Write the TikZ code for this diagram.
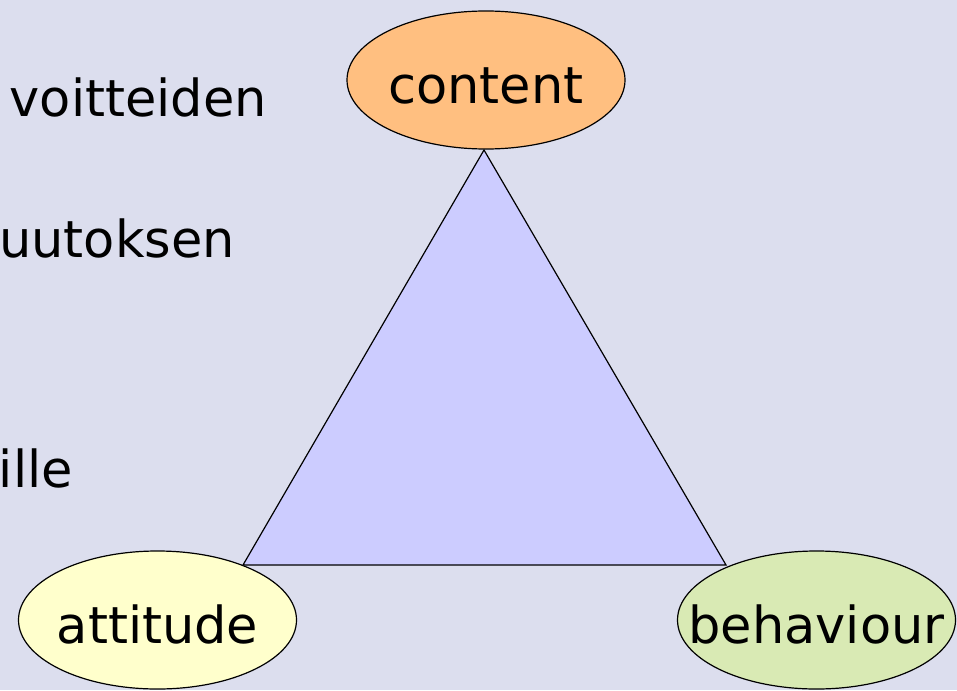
\documentclass[tikz,border=0pt]{standalone}
\usepackage{fontspec}
\setmainfont{DejaVu Sans}
\usetikzlibrary{shapes.geometric}
\definecolor{bgcol}{RGB}{220,222,238}
\definecolor{tricol}{RGB}{204,204,255}
\definecolor{contentcol}{RGB}{255,191,128}
\definecolor{attitudecol}{RGB}{255,255,204}
\definecolor{behaviourcol}{RGB}{217,234,180}
\tikzset{bigfont/.style={font=\fontsize{51}{60}\selectfont},
  corner/.style={draw, ellipse, line width=1.2pt, minimum width=278pt, minimum height=138pt, inner sep=0pt},
  cornertext/.style={bigfont, inner sep=0pt, text height=46pt, text depth=0pt},
  cuttext/.style={bigfont, anchor=base east, inner sep=0pt}}
\begin{document}
\begin{tikzpicture}[x=1pt, y=-1pt]
\useasboundingbox (0,0) rectangle (957,690);
\clip (0,0) rectangle (957,690);
\fill[bgcol] (0,0) rectangle (957,690);
% text cut off at the left edge
\node[cuttext](t1) at (267,117) {voitteiden};
\node[cuttext](t2) at (235,257) {uutoksen};
\node[cuttext](t3) at (73,487) {ille};
% triangle
\coordinate (top) at (484,150);
\coordinate (left) at (243,565);
\coordinate (right) at (726,565);
\filldraw[fill=tricol, draw=black, line width=1.2pt](top)--(left)--(right)--cycle;
% the three corners
\node[corner, fill=contentcol](content) at (486,80) {};
\node[cornertext] at (content.center) {content};
\node[corner, fill=attitudecol](attitude) at (157.5,620) {};
\node[cornertext] at (attitude.center) {attitude};
\node[corner, fill=behaviourcol](behaviour) at (816.5,620) {};
\node[cornertext] at (behaviour.center) {behaviour};
\end{tikzpicture}
\end{document}
